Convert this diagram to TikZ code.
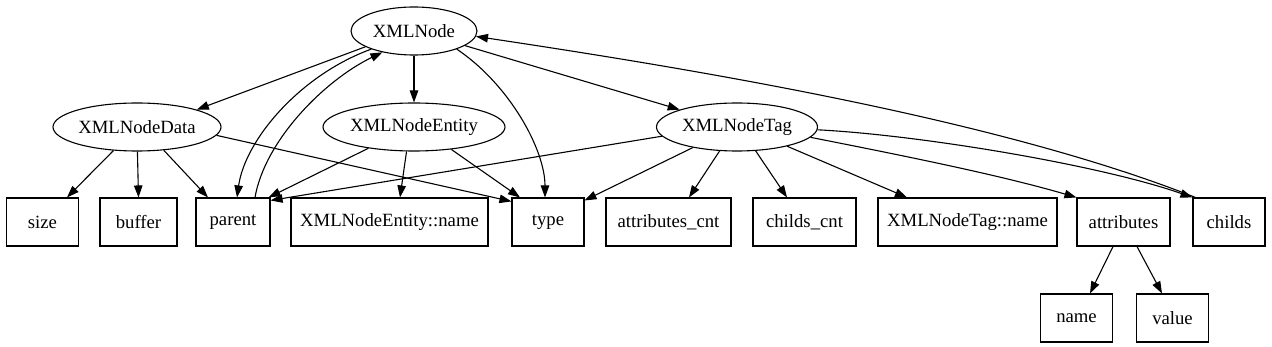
\documentclass[tikz,border=0pt]{standalone}
\usepackage{fontspec}
\setmainfont{Liberation Serif}
\usetikzlibrary{arrows.meta,shapes.geometric}
\begin{document}
\begin{tikzpicture}[x=1pt,y=-1pt,
  lbl/.style={font=\fontsize{18.7}{22}\selectfont},
  ell/.style={ellipse,draw,line width=1.1pt,inner sep=0pt,minimum height=48pt,lbl},
  bx/.style={rectangle,draw,line width=1.1pt,inner sep=0pt,minimum height=48pt,lbl},
  arr/.style={line width=1.1pt,-{Triangle[length=12pt,width=8.5pt]}}]
\useasboundingbox (0,0) rectangle (1272,347);
% ellipses
\node[ell,minimum width=126pt] (xn) at (414,31) {XMLNode};
\node[ell,minimum width=168pt] (data) at (137,127) {XMLNodeData};
\node[ell,minimum width=182pt] (ent) at (414,127) {XMLNodeEntity};
\node[ell,minimum width=161pt] (tag) at (737,127) {XMLNodeTag};
% boxes
\node[bx,minimum width=72pt] (size) at (42.5,222) {size};
\node[bx,minimum width=77pt] (buffer) at (138.5,222) {buffer};
\node[bx,minimum width=74pt] (parent) at (233,222) {parent};
\node[bx,minimum width=197pt] (ename) at (389.5,222) {XMLNodeEntity::name};
\node[bx,minimum width=72pt] (type) at (548,222) {type};
\node[bx,minimum width=125pt] (acnt) at (668.5,222) {attributes\_cnt};
\node[bx,minimum width=103pt] (ccnt) at (804.5,222) {childs\_cnt};
\node[bx,minimum width=179pt] (tname) at (967.5,222) {XMLNodeTag::name};
\node[bx,minimum width=93pt] (attrs) at (1123.5,222) {attributes};
\node[bx,minimum width=72pt] (childs) at (1229,222) {childs};
\node[bx,minimum width=72pt] (name) at (1076.5,318) {name};
\node[bx,minimum width=72pt] (value) at (1172.5,318) {value};
% XMLNode edges
\draw[arr] (xn.198) -- (data.north east);
\draw[arr] (xn.south) -- (ent.north);
\draw[arr] (xn.344) -- (tag.north west);
\draw[arr] (xn.203) .. controls (300,75) and (245,140) .. ([xshift=4pt]parent.north);
\draw[arr] ([xshift=22pt]parent.north) .. controls (265,140) and (325,80) .. (xn.214);
\draw[arr] (xn.337) .. controls (510,85) and (545,150) .. ([xshift=-3pt]type.north);
\draw[arr] ([xshift=3pt]childs.north west) .. controls (1000,120) and (700,70) .. (xn.355);
% XMLNodeData edges
\draw[arr] (data.225) -- ([xshift=24.5pt]size.north);
\draw[arr] (data.271) -- (buffer.north);
\draw[arr] (data.319) -- ([xshift=-25pt]parent.north);
\draw[arr] (data.354) -- ([yshift=-4pt]type.north west);
% XMLNodeEntity edges
\draw[arr] (ent.205) -- ([xshift=-2pt]parent.north east);
\draw[arr] (ent.253) -- ([xshift=10.5pt]ename.north);
\draw[arr] (ent.329) -- ([xshift=-28pt]type.north);
% XMLNodeTag edges
\draw[arr] (tag.187) -- ([yshift=-3pt]parent.north east);
\draw[arr] (tag.205) -- ([yshift=-3pt]type.north east);
\draw[arr] (tag.234) -- ([xshift=20.5pt]acnt.north);
\draw[arr] (tag.308) -- ([xshift=-17.5pt]ccnt.north);
\draw[arr] (tag.339) -- ([xshift=-60.5pt]tname.north);
\draw[arr] (tag.352) .. controls (900,155) and (1000,175) .. (attrs.north west);
\draw[arr] (tag.358) .. controls (920,135) and (1100,165) .. (childs.north west);
% attributes edges
\draw[arr] ([xshift=-10.5pt]attrs.south) -- ([xshift=13.5pt]name.north);
\draw[arr] ([xshift=13.5pt]attrs.south) -- ([xshift=-10.5pt]value.north);
\end{tikzpicture}
\end{document}
